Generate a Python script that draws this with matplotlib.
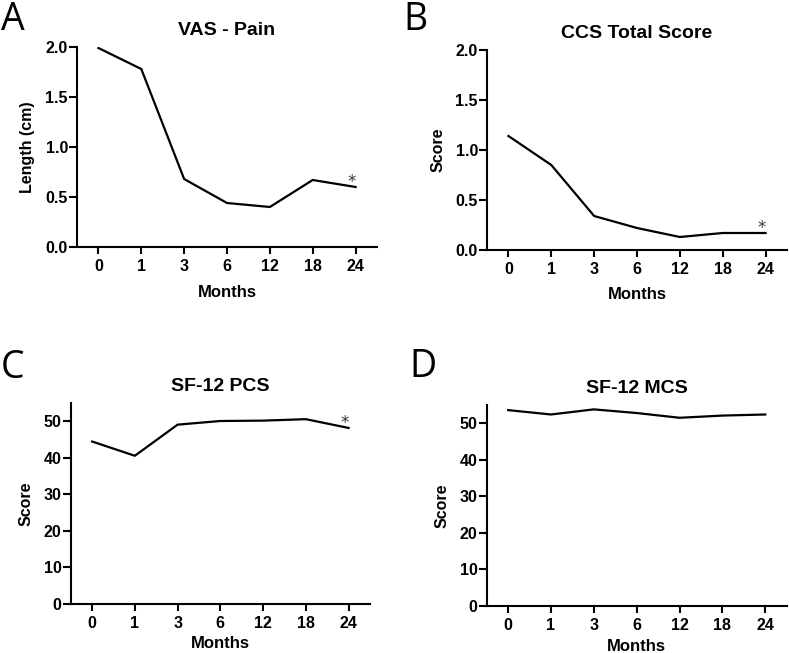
import matplotlib
matplotlib.use("Agg")
import matplotlib.pyplot as plt
import numpy as np

months = ["0", "1", "3", "6", "12", "18", "24"]
vas_pain = [1.99, 1.78, 0.68, 0.44, 0.40, 0.67, 0.60]
ccs_total = [1.14, 0.85, 0.34, 0.22, 0.13, 0.17, 0.17]
sf12_pcs = [44.4, 40.5, 49.0, 50.0, 50.1, 50.5, 48.1]
sf12_mcs = [53.6, 52.4, 53.8, 52.8, 51.5, 52.1, 52.4]

titles = ["VAS - Pain", "CCS Total Score", "SF-12 PCS", "SF-12 MCS"]
ylabels = ["Length (cm)", "Score", "Score", "Score"]
letters = ["A", "B", "C", "D"]
series = [vas_pain, ccs_total, sf12_pcs, sf12_mcs]
ylims = [(0, 2.0), (0, 2.0), (0, 55), (0, 55)]
yticks = [[0, 0.5, 1.0, 1.5, 2.0], [0, 0.5, 1.0, 1.5, 2.0],
          [0, 10, 20, 30, 40, 50], [0, 10, 20, 30, 40, 50]]
stars = [True, True, True, False]

plt.rcParams['font.family'] = ['Liberation Sans', 'DejaVu Sans']

fig = plt.figure(figsize=(7.89, 6.53), dpi=100)
rects = [
    (77/789, (653-247)/653, 300/789, 200/653),
    (487/789, (653-250)/653, 300/789, 200/653),
    (70.7/789, (653-604)/653, 299.3/789, 201.3/653),
    (486.7/789, (653-605.7)/653, 300/789, 200.7/653),
]
letter_pos = [(1, 30), (403, 30), (1, 378), (409, 377)]
xlabelpads = [8, 7, 4, 4.5]

for i in range(4):
    ax = fig.add_axes(rects[i])
    x = np.arange(len(months))
    ax.plot(x, series[i], color="black", lw=1.6)
    ax.set_xlim(-0.5, 6.5)
    ax.set_ylim(*ylims[i])
    ax.set_yticks(yticks[i])
    if i < 2:
        ax.set_yticklabels([f"{v:.1f}" for v in yticks[i]])
    ax.set_xticks(x)
    ax.set_xticklabels(months)
    for s in ["top", "right"]:
        ax.spines[s].set_visible(False)
    for s in ["left", "bottom"]:
        ax.spines[s].set_linewidth(1.5)
    ax.tick_params(axis="x", width=1.5, length=5, labelsize=11.5, direction="out", pad=3.5)
    ax.tick_params(axis="y", width=1.5, length=5.5, labelsize=11.5, direction="out", pad=1)
    for lab in ax.get_xticklabels() + ax.get_yticklabels():
        lab.set_fontweight("bold")
    ax.set_title(titles[i], fontsize=14, fontweight="bold", pad=8.5)
    ax.set_xlabel("Months", fontsize=12, fontweight="bold", labelpad=xlabelpads[i])
    ax.set_ylabel(ylabels[i], fontsize=11.5, fontweight="bold", labelpad=7.5)
    if stars[i]:
        ax.annotate("*", xy=(x[-1], series[i][-1]), xytext=(-3, -3),
                    textcoords="offset points", ha="center", va="bottom",
                    fontsize=12, color="#333333", family="DejaVu Sans")
    lx, ly = letter_pos[i]
    fig.text(lx/789, 1 - ly/653, letters[i], fontsize=27, family="Open Sans",
             ha="left", va="baseline")

fig.savefig("out.png", dpi=100)
